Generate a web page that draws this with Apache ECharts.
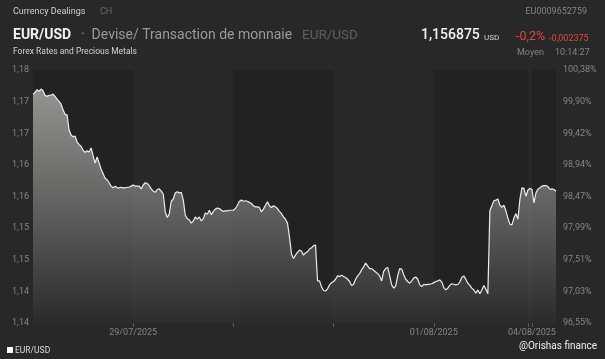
<!DOCTYPE html>
<html>
<head>
<meta charset="utf-8">
<script src="https://cdn.jsdelivr.net/npm/echarts@6/dist/echarts.min.js"></script>
<style>
html,body{margin:0;padding:0;background:#282828;}
#c{width:605px;height:359px;}
</style>
</head>
<body>
<div id="c"></div>
<script>
// ---- data (EUR/USD intraday) ----
const days = ['28/07/2025','29/07/2025','30/07/2025','31/07/2025','01/08/2025','03/08/2025','04/08/2025'];
const rates_28_07 = [1.1763,1.1766,1.1771,1.1768,1.1772,1.1769,1.1761,1.1759,1.1761,1.1761,
  1.1763,1.1759,1.1754,1.1750,1.1745,1.1735,1.1727,1.1726,1.1699,1.1690,
  1.1687,1.1688,1.1678,1.1673,1.1670,1.1663,1.1659,1.1662,1.1660,1.1667,
  1.1653,1.1640,1.1651,1.1640,1.1629,1.1621,1.1613,1.1610,1.1605,1.1599,
  1.1596,1.1599,1.1596,1.1596,1.1597,1.1596,1.1596,1.1597,1.1597,1.1599];
const rates_29_07 = [1.1601,1.1599,1.1599,1.1599,1.1594,1.1601,1.1605,1.1604,1.1600,1.1594,
  1.1590,1.1588,1.1593,1.1594,1.1590,1.1585,1.1553,1.1543,1.1549,1.1572,
  1.1576,1.1587,1.1589,1.1587,1.1588,1.1574,1.1547,1.1541,1.1539,1.1533,
  1.1537,1.1544,1.1540,1.1544,1.1537,1.1541,1.1551,1.1549,1.1556,1.1548,
  1.1554,1.1558,1.1560,1.1559,1.1556,1.1554,1.1555,1.1555,1.1556,1.1556];
const rates_30_07 = [1.1556,1.1559,1.1565,1.1572,1.1574,1.1572,1.1573,1.1572,1.1570,1.1568,
  1.1564,1.1562,1.1562,1.1561,1.1553,1.1558,1.1565,1.1571,1.1564,1.1561,
  1.1564,1.1562,1.1559,1.1554,1.1550,1.1544,1.1540,1.1533,1.1508,1.1478,
  1.1470,1.1476,1.1481,1.1485,1.1483,1.1476,1.1480,1.1482,1.1487,1.1489,
  1.1493,1.1494,1.1430,1.1430,1.1419,1.1413,1.1412,1.1416,1.1423,1.1427];
const rates_31_07 = [1.1429,1.1433,1.1439,1.1438,1.1440,1.1438,1.1436,1.1433,1.1429,1.1422,
  1.1424,1.1433,1.1439,1.1443,1.1450,1.1455,1.1462,1.1457,1.1452,1.1452,
  1.1449,1.1446,1.1443,1.1439,1.1430,1.1447,1.1452,1.1454,1.1439,1.1423,
  1.1417,1.1421,1.1439,1.1452,1.1451,1.1441,1.1433,1.1429,1.1426,1.1430,
  1.1435,1.1437,1.1433,1.1423,1.1420,1.1424,1.1423,1.1424,1.1424,1.1425];
const rates_01_08 = [1.1427,1.1429,1.1430,1.1432,1.1428,1.1418,1.1414,1.1417,1.1422,1.1425,
  1.1424,1.1423,1.1424,1.1428,1.1436,1.1439,1.1433,1.1426,1.1422,1.1417,
  1.1414,1.1408,1.1414,1.1407,1.1414,1.1422,1.1415,1.1407,1.1555,1.1564,
  1.1573,1.1574,1.1576,1.1565,1.1561,1.1565,1.1555,1.1542,1.1531,1.1530,
  1.1542,1.1550,1.1540,1.1576,1.1596,1.1595,1.1581];
const rates_03_08 = [1.1592,1.1595];
const rates_04_08 = [1.1593,1.1569,1.1587,1.1594,1.1596,1.1599,1.1600,1.1600,1.1598,1.1593,1.1594,1.1593,1.1590];
const dayRates = [rates_28_07,rates_29_07,rates_30_07,rates_31_07,rates_01_08,rates_03_08,rates_04_08];
const shadedDays = ['29/07/2025','31/07/2025','03/08/2025'];
const labelledDays = ['29/07/2025','01/08/2025','04/08/2025'];
const leftTickLabels = ['1,14','1,14','1,15','1,15','1,16','1,16','1,17','1,17','1,18'];
const rightTickLabels = ['96,55%','97,03%','97,51%','97,99%','98,47%','98,94%','99,42%','99,90%','100,38%'];
const yMin = 1.1355, yMax = 1.1806;

// ---- build category axis / series from the arrays ----
const categories = [], values = [], dayStart = {}, dayEnd = {};
days.forEach((d, di) => {
  dayStart[d] = categories.length;
  dayRates[di].forEach((v, k) => { categories.push(d + ' #' + k); values.push(v); });
  dayEnd[d] = categories.length;
});
const tickIdx = new Set(days.slice(1).map(d => dayStart[d]));
const labelIdx = {};
labelledDays.forEach(d => { labelIdx[dayStart[d]] = d; });
const bands = shadedDays.map(d => [{xAxis: categories[dayStart[d]]}, {xAxis: categories[Math.min(dayEnd[d], categories.length - 1)]}]);
const step = (yMax - yMin) / 8;
const idxOf = v => Math.round((v - yMin) / step);

const chart = echarts.init(document.getElementById('c'), null, {renderer: 'canvas'});
const font = 'Roboto, "Noto Sans", sans-serif';
chart.setOption({
  backgroundColor: '#282828',
  animation: false,
  textStyle: {fontFamily: font},
  grid: {left: 33, right: 49, top: 70, bottom: 36, show: true, backgroundColor: '#222222', borderWidth: 0},
  xAxis: {
    type: 'category', data: categories, boundaryGap: false,
    axisLine: {show: false},
    axisTick: {show: true, length: 4, inside: false, lineStyle: {color: '#5a5a5a'}, interval: (i) => tickIdx.has(i)},
    axisLabel: {color: '#858585', fontSize: 9, margin: 5, interval: (i) => labelIdx[i] !== undefined,
      formatter: (v, i) => labelIdx[i] || ''},
    splitLine: {show: false}
  },
  yAxis: [
    {type: 'value', min: yMin, max: yMax, interval: step, position: 'left',
     axisLine: {show: false}, axisTick: {show: false}, splitLine: {show: false},
     axisLabel: {color: '#858585', fontSize: 9, margin: 4, align: 'right', formatter: v => leftTickLabels[idxOf(v)] || ''}},
    {type: 'value', min: yMin, max: yMax, interval: step, position: 'right',
     axisLine: {show: false}, axisTick: {show: false}, splitLine: {show: false},
     axisLabel: {color: '#858585', fontSize: 9, margin: 7, align: 'left', formatter: v => rightTickLabels[idxOf(v)] || ''}}
  ],
  series: [{
    type: 'line', data: values, yAxisIndex: 0, showSymbol: false, symbol: 'none',
    lineStyle: {color: '#ececec', width: 1.2},
    areaStyle: {color: new echarts.graphic.LinearGradient(0, 0, 0, 1, [
      {offset: 0, color: '#c4c4c1'}, {offset: 0.5, color: '#7c7c7b'}, {offset: 1, color: '#2f2f2f'}])},
    markArea: {silent: true, itemStyle: {color: 'rgba(255,255,255,0.03)'}, data: bands}
  }],
  graphic: [
    {type: 'text', left: 13, top: 7, style: {text: 'Currency Dealings', fill: '#d2d2d2', font: '9px ' + font}},
    {type: 'text', left: 100, top: 7, style: {text: 'CH', fill: '#6a6a6a', font: '9px ' + font}},
    {type: 'text', right: 18, top: 7, style: {text: 'EU0009652759', fill: '#858585', font: '9px ' + font}},
    {type: 'text', left: 13, top: 28, style: {text: 'EUR/USD', fill: '#f2f2f2', font: 'bold 14px ' + font}},
    {type: 'text', left: 81, top: 28, style: {text: '·  Devise/ Transaction de monnaie', fill: '#9a9a9a', font: '14px ' + font}},
    {type: 'text', left: 302, top: 29, style: {text: 'EUR/USD', fill: '#5e5e5e', font: '13.5px ' + font}},
    {type: 'text', left: 421, top: 28, style: {text: '1,156875', fill: '#f2f2f2', font: '500 14px ' + font}},
    {type: 'text', left: 484, top: 34, style: {text: 'USD', fill: '#cfcfcf', font: '8px ' + font}},
    {type: 'text', left: 516, top: 30, style: {text: '-0,2%', fill: '#e0463c', font: '12.5px ' + font}},
    {type: 'text', left: 549, top: 34, style: {text: '-0,002375', fill: '#e0463c', font: '9px ' + font}},
    {type: 'text', left: 13, top: 47, style: {text: 'Forex Rates and Precious Metals', fill: '#d2d2d2', font: '8.5px ' + font}},
    {type: 'text', left: 517, top: 48, style: {text: 'Moyen', fill: '#858585', font: '9px ' + font}},
    {type: 'text', left: 555, top: 48, style: {text: '10:14:27', fill: '#858585', font: '9px ' + font}},
    {type: 'rect', left: 7, top: 347, shape: {width: 6, height: 6}, style: {fill: '#ffffff'}},
    {type: 'text', left: 15, top: 346, style: {text: 'EUR/USD', fill: '#dcdcdc', font: '8.5px ' + font}},
    {type: 'text', right: 8, top: 341, style: {text: '@Orishas finance', fill: '#eeeeee', font: '10px ' + font}}
  ]
});
</script>
</body>
</html>
